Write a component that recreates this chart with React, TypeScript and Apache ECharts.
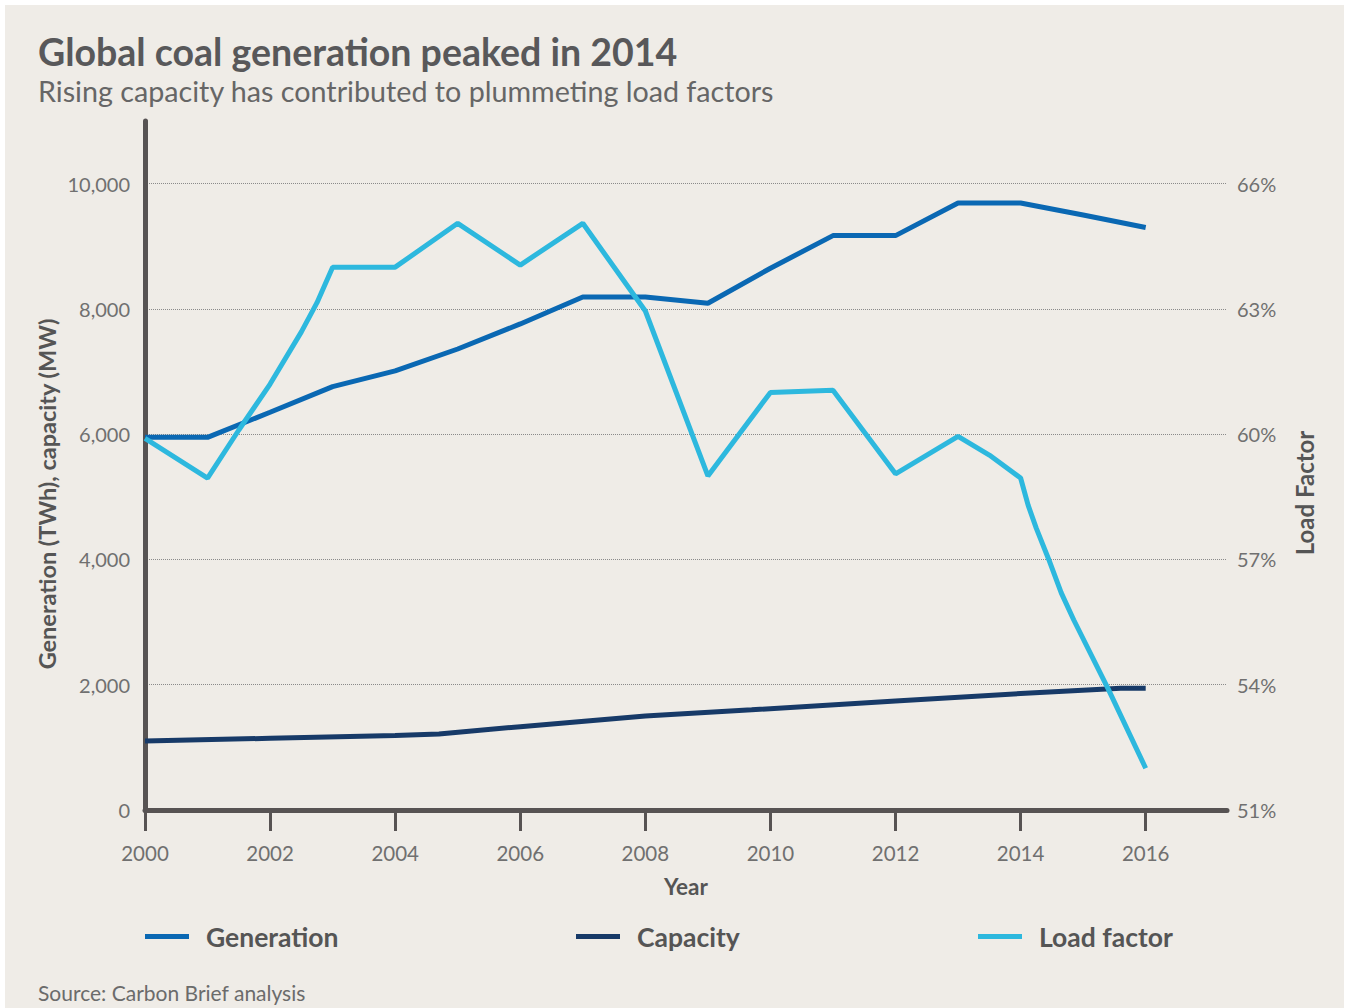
import React, { useEffect, useRef } from "react";
import * as echarts from "echarts";

// ---- Data ----
const yearTicks = [2000, 2002, 2004, 2006, 2008, 2010, 2012, 2014, 2016];
const leftTicks = [0, 2000, 4000, 6000, 8000, 10000];
const rightTicks = [51, 54, 57, 60, 63, 66];

const generation: [number, number][] = [
  [2000, 5950], [2001, 5950], [2002, 6350], [2003, 6760], [2004, 7010],
  [2005, 7360], [2006, 7760], [2007, 8190], [2008, 8190], [2009, 8090],
  [2010, 8650], [2011, 9170], [2012, 9170], [2013, 9690], [2014, 9690],
  [2015, 9500], [2016, 9300],
];

const capacity: [number, number][] = [
  [2000, 1100], [2002, 1145], [2004, 1190], [2004.7, 1215], [2006, 1330],
  [2008, 1500], [2009.7, 1600], [2012, 1740], [2014, 1860], [2015.6, 1945],
  [2016, 1945],
];

const loadFactor: [number, number][] = [
  [2000, 59.9], [2001, 58.95], [2001.5, 60.1], [2002, 61.2], [2002.5, 62.45],
  [2002.75, 63.15], [2003, 64.0], [2004, 64.0], [2005, 65.05], [2006, 64.05],
  [2007, 65.05], [2008, 62.95], [2009, 59.0], [2010, 61.0], [2011, 61.05],
  [2012, 59.05], [2013, 59.95], [2013.5, 59.5], [2014, 58.95], [2014.12, 58.3],
  [2014.25, 57.75], [2014.45, 57.0], [2014.65, 56.2], [2014.85, 55.55],
  [2015.4, 53.9], [2016, 52.0],
];

const seriesNames = ["Generation", "Capacity", "Load factor"];
const colors = ["#0a68b3", "#173a68", "#2db8de"];

const FONT = "Lato";

export default function App() {
  const ref = useRef<HTMLDivElement>(null);

  useEffect(() => {
    const chart = echarts.init(ref.current!, null, { renderer: "svg" });
    const legendLefts = [140, 571, 973];
    chart.setOption({
      animation: false,
      backgroundColor: "transparent",
      textStyle: { fontFamily: FONT },
      title: [
        {
          text: "Global coal generation peaked in 2014",
          left: 33,
          top: 24,
          textStyle: { fontSize: 37.5, fontWeight: "bold", color: "#58585a", fontFamily: FONT, lineHeight: 44 },
        },
        {
          text: "Rising capacity has contributed to plummeting load factors",
          left: 33,
          top: 69,
          textStyle: { fontSize: 28.7, fontWeight: "normal", color: "#666666", fontFamily: FONT, lineHeight: 34 },
        },
        {
          text: "Source: Carbon Brief analysis",
          left: 33,
          top: 975,
          textStyle: { fontSize: 21, fontWeight: "normal", color: "#6b6b6b", fontFamily: FONT, lineHeight: 24 },
        },
      ],
      legend: seriesNames.map((n, i) => ({
        data: [n],
        left: legendLefts[i],
        top: 918,
        icon: "rect",
        itemWidth: 44,
        itemHeight: 5,
        selectedMode: false,
        textStyle: { fontSize: 26.5, fontWeight: "bold", color: "#555555", fontFamily: FONT, padding: [0, 0, 0, 12] },
      })),
      graphic: [
        {
          type: "text",
          x: 47,
          y: 494,
          rotation: Math.PI / 2,
          silent: true,
          style: {
            text: "Generation (TWh), capacity (MW)",
            fontSize: 23.5,
            fontWeight: "bold",
            fontFamily: FONT,
            fill: "#555555",
            align: "center",
            verticalAlign: "middle",
            textAlign: "center",
            textVerticalAlign: "middle",
          },
        },
        {
          type: "text",
          x: 1304,
          y: 493,
          rotation: Math.PI / 2,
          silent: true,
          style: {
            text: "Load Factor",
            fontSize: 24,
            fontWeight: "bold",
            fontFamily: FONT,
            fill: "#555555",
            align: "center",
            verticalAlign: "middle",
            textAlign: "center",
            textVerticalAlign: "middle",
          },
        },
      ],
      grid: { left: 145, top: 121, width: 1082, height: 689, containLabel: false },
      xAxis: {
        type: "value",
        min: 2000,
        max: 2017.3,
        interval: 2,
        name: "Year",
        nameLocation: "middle",
        nameGap: 65,
        nameTextStyle: { fontSize: 22.5, fontWeight: "bold", color: "#555555", fontFamily: FONT },
        axisLine: { show: true, lineStyle: { color: "#575353", width: 5 } },
        axisTick: { show: true, length: 21, customValues: yearTicks, lineStyle: { color: "#575353", width: 3 } },
        axisLabel: {
          customValues: yearTicks,
          margin: 32,
          fontSize: 20.5,
          color: "#707070",
          fontFamily: FONT,
          formatter: (v: number) => String(v),
        },
        splitLine: { show: false },
      },
      yAxis: [
        {
          type: "value",
          min: 0,
          max: 11000,
          interval: 2000,
          position: "left",
          axisLine: { show: true, lineStyle: { color: "#575353", width: 5 } },
          axisTick: { show: false },
          axisLabel: {
            customValues: leftTicks,
            margin: 15,
            fontSize: 20,
            color: "#707070",
            fontFamily: FONT,
            formatter: (v: number) => v.toLocaleString("en-US"),
          },
          splitLine: {
            show: true,
            showMinLine: false,
            showMaxLine: false,
            lineStyle: { type: "dotted", color: "#8a8a8a", width: 1 },
          },
        },
        {
          type: "value",
          min: 51,
          max: 67.5,
          interval: 3,
          position: "right",
          axisLine: { show: false },
          axisTick: { show: false },
          axisLabel: {
            customValues: rightTicks,
            margin: 10,
            fontSize: 20,
            color: "#707070",
            fontFamily: FONT,
            formatter: (v: number) => `${v}%`,
          },
          splitLine: { show: false },
        },
      ],
      series: [
        {
          name: seriesNames[0],
          type: "line",
          data: generation,
          yAxisIndex: 0,
          showSymbol: false,
          symbol: "none",
          color: colors[0],
          lineStyle: { width: 5, color: colors[0] },
        },
        {
          name: seriesNames[1],
          type: "line",
          data: capacity,
          yAxisIndex: 0,
          showSymbol: false,
          symbol: "none",
          color: colors[1],
          lineStyle: { width: 5, color: colors[1] },
        },
        {
          name: seriesNames[2],
          type: "line",
          data: loadFactor,
          yAxisIndex: 1,
          showSymbol: false,
          symbol: "none",
          color: colors[2],
          lineStyle: { width: 5, color: colors[2] },
        },
      ],
    });
    return () => chart.dispose();
  }, []);

  return (
    <div style={{ position: "fixed", left: 0, top: 0, width: 1349, height: 1008, background: "#ffffff" }}>
      <div style={{ position: "absolute", left: 5, top: 5, right: 5, bottom: 0, background: "#efece7" }} />
      <div ref={ref} style={{ position: "absolute", left: 0, top: 0, width: 1349, height: 1008 }} />
    </div>
  );
}
